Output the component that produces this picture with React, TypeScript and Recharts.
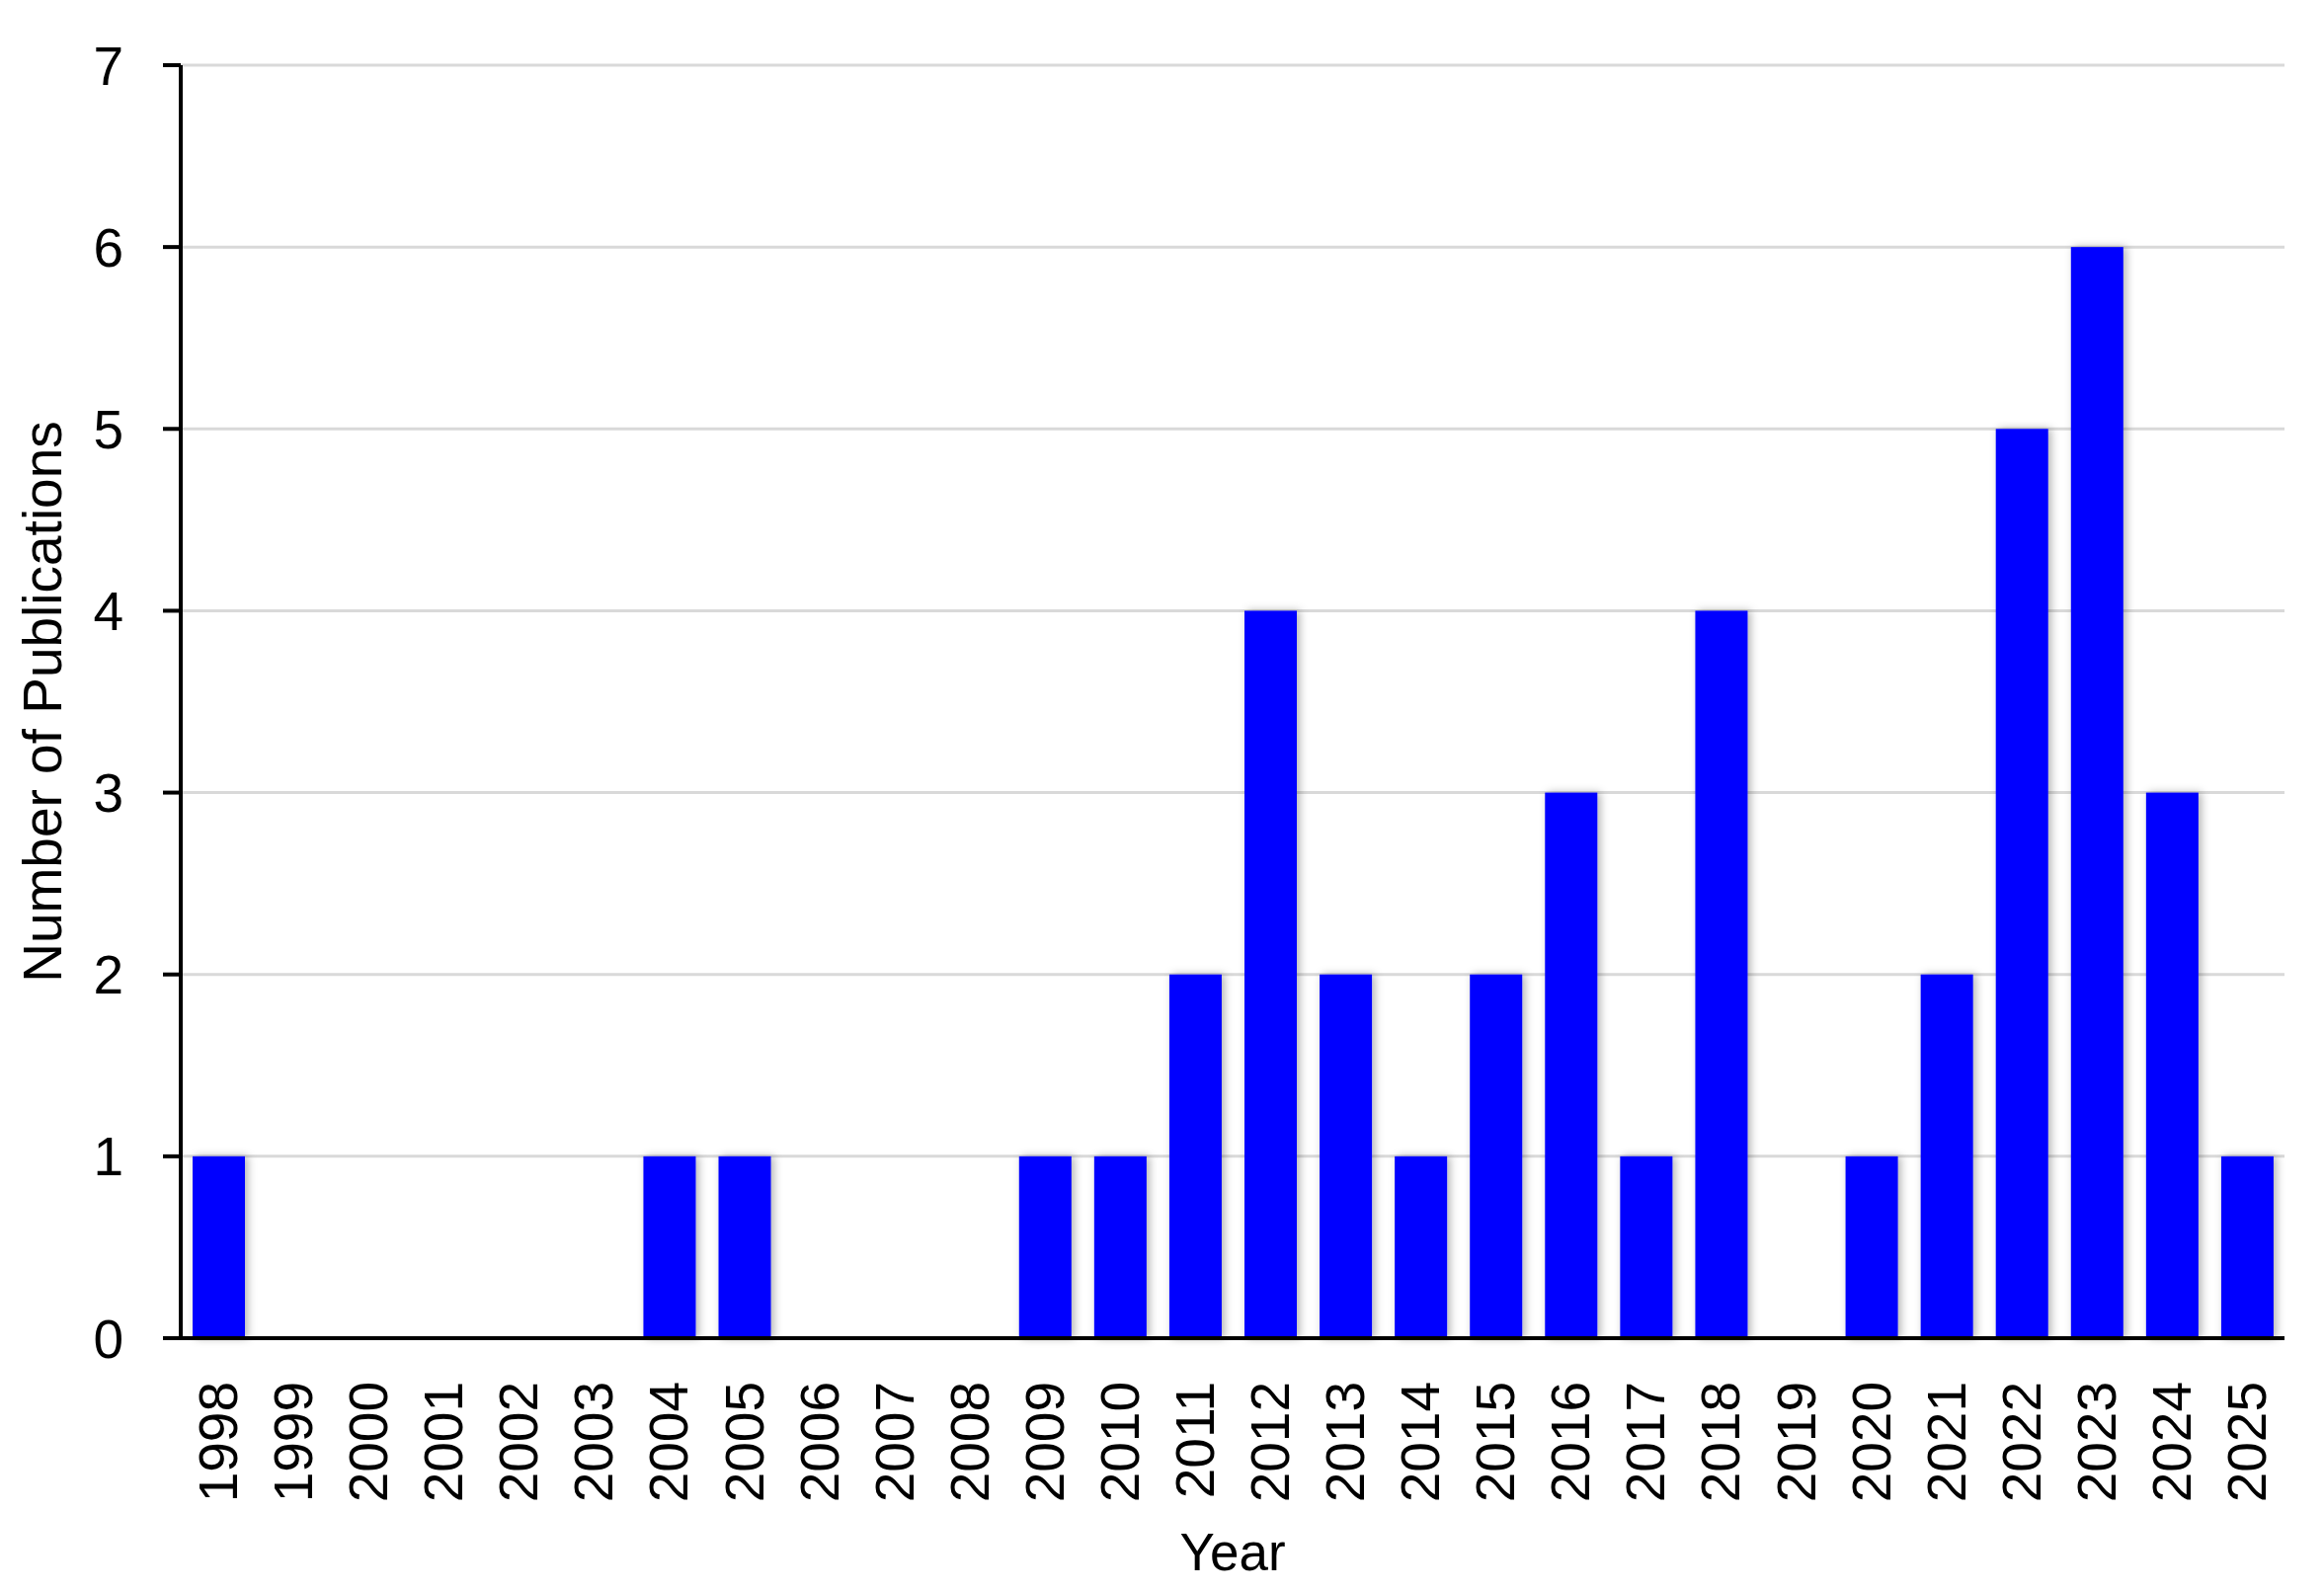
import React from 'react';
import { BarChart, Bar, XAxis, YAxis, CartesianGrid, Label } from 'recharts';

const years = ['1998','1999','2000','2001','2002','2003','2004','2005','2006','2007','2008','2009','2010','2011','2012','2013','2014','2015','2016','2017','2018','2019','2020','2021','2022','2023','2024','2025'];
const publications = [1,0,0,0,0,0,1,1,0,0,0,1,1,2,4,2,1,2,3,1,4,0,1,2,5,6,3,1];
const yTicks = [0,1,2,3,4,5,6,7];

const data = years.map((y, i) => ({ year: y, count: publications[i] }));

const FONT = '"Liberation Sans", Arial, sans-serif';

const XTick = (props: any) => {
  const { x, y, payload } = props;
  return (
    <text x={x} y={y} transform={`rotate(-90, ${x}, ${y})`} textAnchor="end" dominantBaseline="central"
      fontFamily={FONT} fontSize={55} fill="#000">{payload.value}</text>
  );
};

const BarShape = (props: any) => {
  const { x, y, width, height } = props;
  if (!height || height <= 0) return null;
  return <rect x={x} y={y} width={width} height={height} fill="#0000ff" filter="url(#barShadow)" />;
};

export default function App() {
  return (
    <div style={{ position: 'absolute', left: 0, top: 0, width: 2353, height: 1611, background: '#fff' }}>
      <svg width={0} height={0} style={{ position: 'absolute' }}>
        <defs>
          <filter id="barShadow" x="-30%" y="-10%" width="160%" height="120%">
            <feDropShadow dx={3} dy={0} stdDeviation={4} floodColor="#000" floodOpacity={0.3} />
          </filter>
        </defs>
      </svg>
      <BarChart width={2353} height={1611} data={data} margin={{ top: 66, right: 40, left: 0, bottom: 0 }} barSize={53}>
        <CartesianGrid horizontal={true} vertical={false} stroke="#d9d9d9" strokeWidth={3} />
        <XAxis dataKey="year" height={256} axisLine={{ stroke: '#000', strokeWidth: 4 }} tickLine={false} tickSize={0} tickMargin={44}
          interval={0} tick={<XTick />}>
          <Label content={(p: any) => {
            const vb = p.viewBox;
            return <text x={vb.x + vb.width / 2} y={vb.y + 235} textAnchor="middle" fontFamily={FONT} fontSize={53} fill="#000">Year</text>;
          }} />
        </XAxis>
        <YAxis width={183} domain={[0, 7]} ticks={yTicks} interval={0} axisLine={{ stroke: '#000', strokeWidth: 4 }}
          tickLine={{ stroke: '#000', strokeWidth: 4 }} tickSize={18} tickMargin={40}
          tick={{ fontFamily: FONT, fontSize: 55, fill: '#000' }}>
          <Label content={(p: any) => {
            const vb = p.viewBox;
            const cx = vb.x + 62;
            const cy = vb.y + vb.height / 2;
            return <text x={cx} y={cy} transform={`rotate(-90, ${cx}, ${cy})`} textAnchor="middle" fontFamily={FONT} fontSize={55} fill="#000">Number of Publications</text>;
          }} />
        </YAxis>
        <Bar dataKey="count" fill="#0000ff" isAnimationActive={false} shape={<BarShape />} />
      </BarChart>
    </div>
  );
}
